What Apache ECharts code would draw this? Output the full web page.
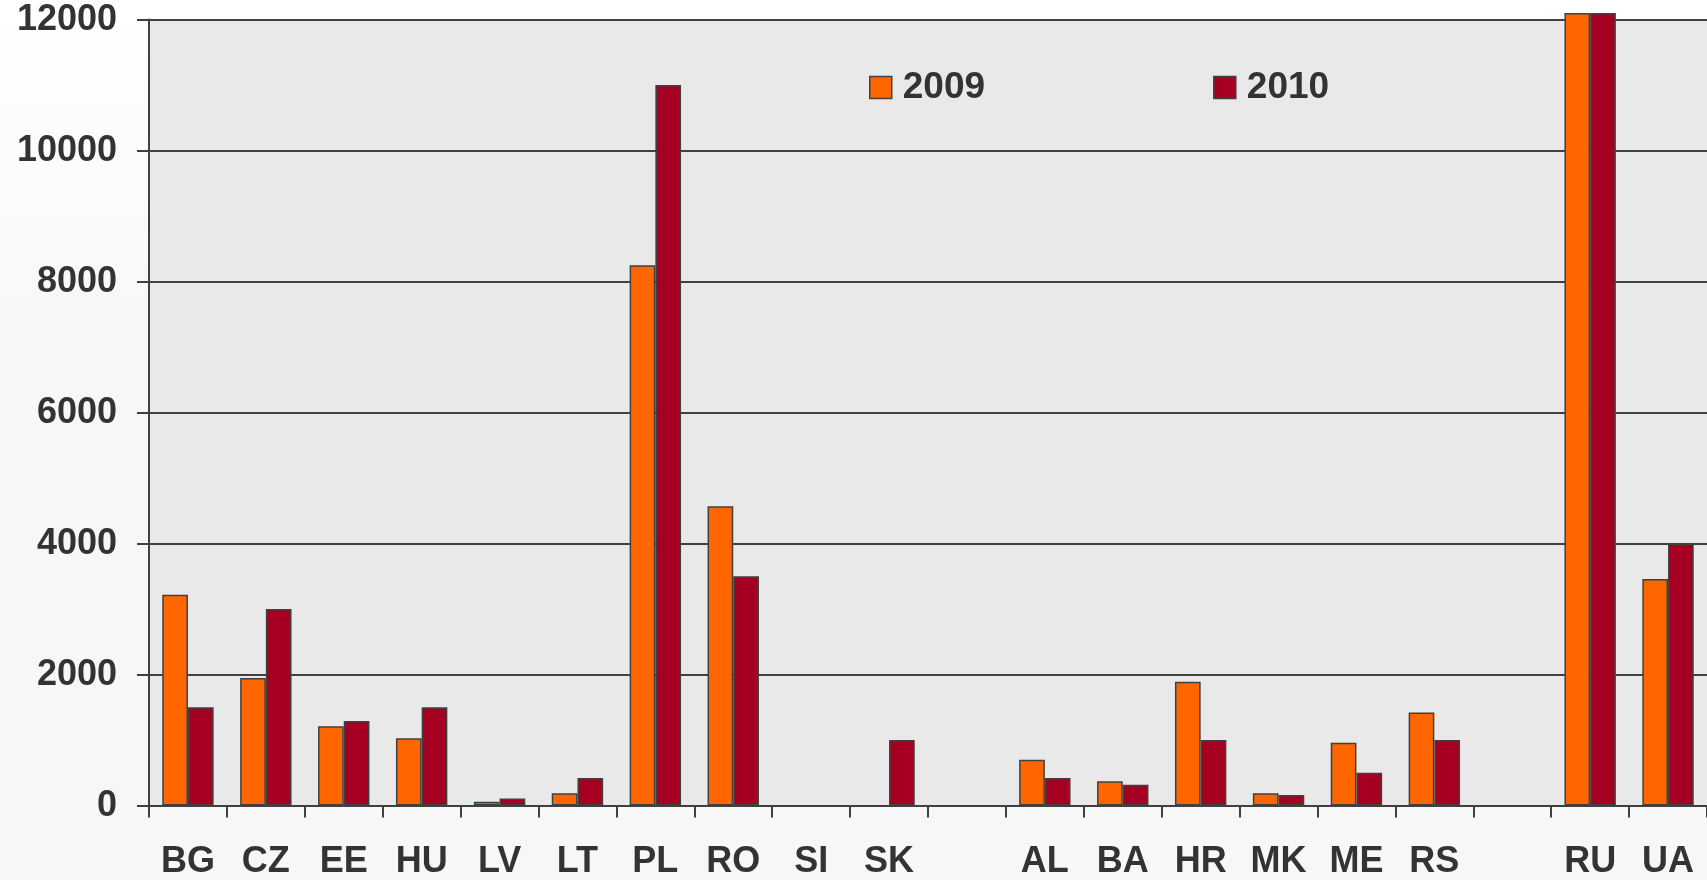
<!DOCTYPE html>
<html>
<head>
<meta charset="utf-8">
<title>2009 / 2010</title>
<style>
  html, body { margin: 0; padding: 0; width: 100%; height: 100%; }
  body { background: linear-gradient(180deg, #ffffff 0%, #f7f7f7 40%, #f7f7f7 100%); overflow: hidden; }
  #chart { width: 1707px; height: 880px; }
</style>
</head>
<body>
<div id="chart"></div>
<script src="https://cdn.jsdelivr.net/npm/echarts@6/dist/echarts.min.js"></script>
<script>
// categories (empty strings are the gaps between country groups)
var countries = ['BG', 'CZ', 'EE', 'HU', 'LV', 'LT', 'PL', 'RO', 'SI', 'SK', '', 'AL', 'BA', 'HR', 'MK', 'ME', 'RS', '', 'RU', 'UA'];
var values2009 = [3220, 1950, 1210, 1030, 60, 190, 8250, 4570, null, null, null, 700, 370, 1890, 190, 960, 1420, null, 12100, 3460];
var values2010 = [1500, 3000, 1290, 1500, 110, 420, 11000, 3500, null, 1000, null, 420, 320, 1000, 160, 500, 1000, null, 12100, 4000];
var seriesNames = ['2009', '2010'];
var seriesColors = ['#FF6600', '#A50021'];
var yTicks = { min: 0, max: 12000, step: 2000 };

var font = '"Liberation Sans", Arial, sans-serif';
var ink = '#333333';
var lineCol = '#404040';

var myChart = echarts.init(document.getElementById('chart'));

myChart.setOption({
  animation: false,
  backgroundColor: 'transparent',
  textStyle: { fontFamily: font },
  legend: {
    data: seriesNames,
    left: 864,
    top: 64,
    icon: 'rect',
    itemWidth: 22,
    itemHeight: 22,
    itemGap: 228,
    itemStyle: { borderColor: lineCol, borderWidth: 1.5 },
    textStyle: { color: ink, fontSize: 37, fontWeight: 'bold', fontFamily: font, padding: [0, 0, 0, 6] }
  },
  grid: {
    left: 149,
    top: 19.6,
    width: 1565,
    bottom: 74.4,
    show: true,
    backgroundColor: '#E9E9E9',
    borderWidth: 0
  },
  xAxis: {
    type: 'category',
    data: countries,
    axisLine: { show: true, lineStyle: { color: lineCol, width: 2 } },
    axisTick: { show: true, length: 12, lineStyle: { color: lineCol, width: 2 } },
    axisLabel: { color: ink, fontSize: 36, fontWeight: 'bold', fontFamily: font, margin: 38, interval: 0 },
    splitLine: { show: false }
  },
  yAxis: {
    type: 'value',
    min: yTicks.min,
    max: yTicks.max,
    interval: yTicks.step,
    axisLine: { show: true, lineStyle: { color: lineCol, width: 2 } },
    axisTick: { show: true, length: 12, lineStyle: { color: lineCol, width: 2 } },
    axisLabel: {
      color: ink, fontSize: 36, fontWeight: 'bold', fontFamily: font, margin: 32,
      formatter: function (v) { return String(v); }
    },
    splitLine: { show: true, lineStyle: { color: lineCol, width: 2 } }
  },
  series: [
    {
      name: seriesNames[0],
      type: 'bar',
      data: values2009,
      clip: false,
      barGap: '0%',
      barCategoryGap: '34%',
      itemStyle: { color: seriesColors[0], borderColor: lineCol, borderWidth: 1.5 }
    },
    {
      name: seriesNames[1],
      type: 'bar',
      data: values2010,
      clip: false,
      itemStyle: { color: seriesColors[1], borderColor: lineCol, borderWidth: 1.5 }
    }
  ]
});
</script>
</body>
</html>
